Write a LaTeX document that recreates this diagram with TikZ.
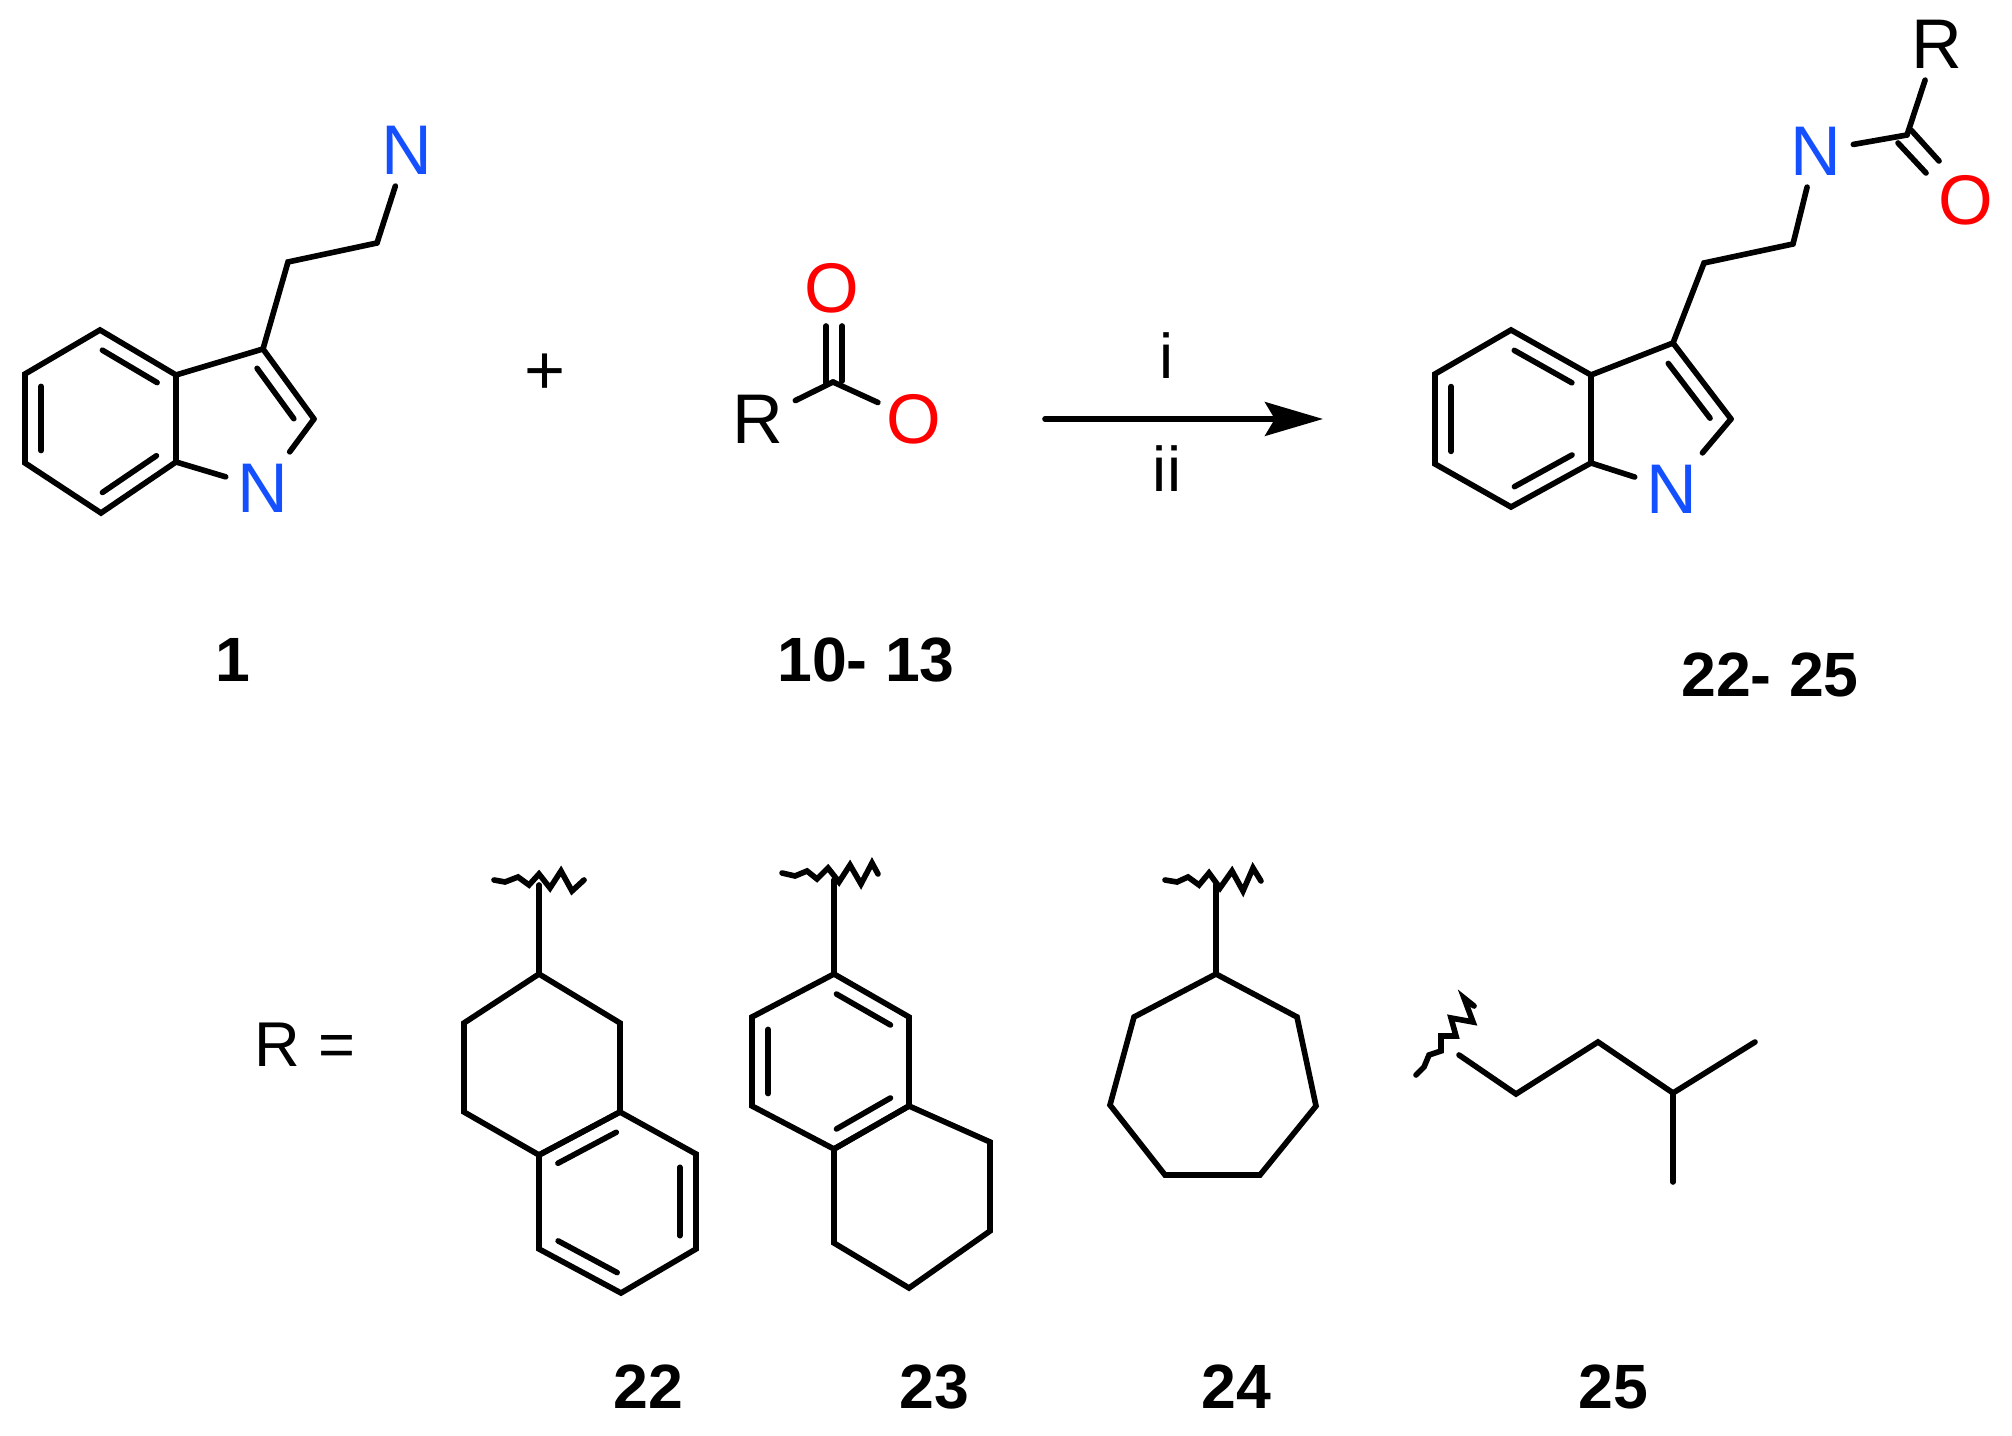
\documentclass[tikz,border=0pt]{standalone}
\usepackage{fontspec}
\setmainfont{Liberation Sans}
\usetikzlibrary{arrows.meta,calc}
\definecolor{nblue}{RGB}{20,80,255}
\definecolor{ored}{RGB}{255,0,0}
\newcommand{\innerbond}[2]{\draw[bond] ($(#1)!.14!(#2)!4.6pt!-90:(#2)$) -- ($(#2)!.14!(#1)!4.6pt!90:(#1)$);}

\begin{document}
\begin{tikzpicture}[yscale=-1,
    bond/.style={line width=1.6pt,line cap=round,line join=miter},
    atom/.style={font=\fontsize{20}{24}\selectfont,inner sep=3.4pt,outer sep=0pt},
    nitro/.style={atom,text=nblue},
    oxy/.style={atom,text=ored,inner sep=2.5pt},
    caption/.style={font=\fontsize{17.8}{22}\bfseries\selectfont,inner sep=0pt},
    plain/.style={font=\fontsize{18}{22}\selectfont,inner sep=0pt}]
\useasboundingbox (0,0) rectangle (20.12,14.36);

\begin{scope}
    \coordinate (T1) at (1.00,3.30);
    \coordinate (T2) at (0.25,3.74);
    \coordinate (T3) at (0.25,4.63);
    \coordinate (T4) at (1.01,5.13);
    \coordinate (T5) at (1.76,4.62);
    \coordinate (T6) at (1.76,3.75);
    \coordinate (T7) at (2.63,3.49);
    \coordinate (T8) at (3.14,4.19);
    \coordinate (T9) at (2.88,2.62);
    \coordinate (T10) at (3.77,2.43);
    \node[nitro] (TN) at (2.63,4.88) {N};
    \node[nitro] (TA) at (4.07,1.50) {N};
\end{scope}
\draw[bond] (T1) -- (T2) -- (T3) -- (T4) -- (T5) -- (T6) -- cycle;
\draw[bond] (T5) -- (T6) -- (T7) -- (T8);
\draw[bond] (T7) -- (T9) -- (T10);
\draw[bond] (T10) -- (TA);
\draw[bond] (T8) -- (TN);
\draw[bond] (T5) -- (TN);
\innerbond{T6}{T1}
\innerbond{T2}{T3}
\innerbond{T4}{T5}
\innerbond{T8}{T7}

\node[atom] (plus) at (5.45,3.74) {+};

\begin{scope}
    \coordinate (C1) at (8.33,3.82);
    \coordinate (C2) at (8.26,3.83);
    \coordinate (C3) at (8.42,3.81);
    \coordinate (C4) at (8.26,3.26);
    \coordinate (C5) at (8.42,3.26);
    \node[atom] (CR) at (7.58,4.19) {R};
    \node[oxy] (CO) at (9.14,4.19) {O};
    \node[oxy] (CD) at (8.32,2.88) {O};
\end{scope}
\draw[bond] (CR) -- (C1);
\draw[bond] (C1) -- (CO);
\draw[bond] (C2) -- (C4);
\draw[bond] (C3) -- (C5);

\coordinate (arrowa) at (10.45,4.19);
\coordinate (arrowb) at (13.23,4.19);
\draw[bond,-{Stealth[length=16.5pt,width=9.6pt,inset=2.8pt]}] (arrowa) -- (arrowb);
\node[plain] (stepi) at (11.67,3.56) {i};
\node[plain] (stepii) at (11.67,4.69) {ii};

\begin{scope}
    \coordinate (P1) at (15.11,3.30);
    \coordinate (P2) at (14.35,3.74);
    \coordinate (P3) at (14.35,4.64);
    \coordinate (P4) at (15.11,5.07);
    \coordinate (P5) at (15.91,4.63);
    \coordinate (P6) at (15.91,3.75);
    \coordinate (P7) at (16.73,3.43);
    \coordinate (P8) at (17.31,4.19);
    \coordinate (P9) at (17.04,2.63);
    \coordinate (P10) at (17.93,2.44);
    \coordinate (P11) at (19.07,1.35);
    \coordinate (P12) at (18.98,1.43);
    \coordinate (P13) at (19.26,1.73);
    \coordinate (P14) at (19.11,1.30);
    \coordinate (P15) at (19.39,1.61);
    \node[nitro] (PN) at (16.72,4.89) {N};
    \node[nitro] (PA) at (18.16,1.51) {N};
    \node[atom] (PR) at (19.37,0.44) {R};
    \node[oxy] (PO) at (19.66,2.00) {O};
\end{scope}
\draw[bond] (P1) -- (P2) -- (P3) -- (P4) -- (P5) -- (P6) -- cycle;
\draw[bond] (P5) -- (P6) -- (P7) -- (P8);
\draw[bond] (P7) -- (P9) -- (P10);
\draw[bond] (P10) -- (PA);
\draw[bond] (P8) -- (PN);
\draw[bond] (P5) -- (PN);
\draw[bond] (PA) -- (P11);
\draw[bond] (P11) -- (PR);
\draw[bond] (P12) -- (P13);
\draw[bond] (P14) -- (P15);
\innerbond{P6}{P1}
\innerbond{P2}{P3}
\innerbond{P4}{P5}
\innerbond{P8}{P7}

\node[caption] (lab1) at (2.33,6.60) {1};
\node[caption] (lab2) at (8.66,6.60) {10- 13};
\node[caption] (lab3) at (17.70,6.75) {22- 25};

\node[plain] (rlabel) at (3.05,10.45) {R =};

\begin{scope}
    \coordinate (A0) at (5.39,8.85);
    \coordinate (A1) at (5.39,9.74);
    \coordinate (A2) at (4.64,10.23);
    \coordinate (A3) at (4.64,11.12);
    \coordinate (A4) at (5.39,11.55);
    \coordinate (A5) at (6.20,11.12);
    \coordinate (A6) at (6.20,10.23);
    \coordinate (A7) at (6.96,11.54);
    \coordinate (A8) at (6.96,12.49);
    \coordinate (A9) at (6.21,12.93);
    \coordinate (A10) at (5.39,12.49);
\end{scope}
\draw[bond] (A1) -- (A2) -- (A3) -- (A4) -- (A5) -- (A6) -- cycle;
\draw[bond] (A4) -- (A5) -- (A7) -- (A8) -- (A9) -- (A10) -- cycle;
\draw[bond] (A0) -- (A1);
\draw[bond] (4.94,8.80) -- (5.05,8.82) -- (5.18,8.77) -- (5.29,8.85) -- (5.39,8.74) -- (5.50,8.88) -- (5.61,8.71) -- (5.72,8.91) -- (5.84,8.80);
\innerbond{A5}{A4}
\innerbond{A8}{A7}
\innerbond{A10}{A9}
\node[caption] (lab4) at (6.48,13.87) {22};

\begin{scope}
    \coordinate (B0) at (8.34,8.80);
    \coordinate (B1) at (8.34,9.74);
    \coordinate (B2) at (7.52,10.17);
    \coordinate (B3) at (7.52,11.06);
    \coordinate (B4) at (8.34,11.49);
    \coordinate (B5) at (9.09,11.06);
    \coordinate (B6) at (9.09,10.17);
    \coordinate (B7) at (9.90,11.42);
    \coordinate (B8) at (9.90,12.31);
    \coordinate (B9) at (9.09,12.88);
    \coordinate (B10) at (8.34,12.43);
\end{scope}
\draw[bond] (B1) -- (B2) -- (B3) -- (B4) -- (B5) -- (B6) -- cycle;
\draw[bond] (B4) -- (B5) -- (B7) -- (B8) -- (B9) -- (B10) -- cycle;
\draw[bond] (B0) -- (B1);
\draw[bond] (7.82,8.73) -- (7.95,8.76) -- (8.07,8.71) -- (8.17,8.79) -- (8.28,8.68) -- (8.39,8.82) -- (8.50,8.65) -- (8.61,8.84) -- (8.72,8.63) -- (8.78,8.74);
\innerbond{B6}{B1}
\innerbond{B2}{B3}
\innerbond{B4}{B5}
\node[caption] (lab5) at (9.34,13.87) {23};

\begin{scope}
    \coordinate (D0) at (12.16,8.85);
    \coordinate (D1) at (12.16,9.74);
    \coordinate (D2) at (11.34,10.17);
    \coordinate (D3) at (11.10,11.05);
    \coordinate (D4) at (11.65,11.75);
    \coordinate (D5) at (12.60,11.75);
    \coordinate (D6) at (13.16,11.06);
    \coordinate (D7) at (12.97,10.17);
\end{scope}
\draw[bond] (D1) -- (D2) -- (D3) -- (D4) -- (D5) -- (D6) -- (D7) -- cycle;
\draw[bond] (D0) -- (D1);
\draw[bond] (11.65,8.80) -- (11.77,8.82) -- (11.88,8.77) -- (11.99,8.85) -- (12.09,8.73) -- (12.20,8.88) -- (12.32,8.71) -- (12.43,8.91) -- (12.53,8.68) -- (12.61,8.81);
\node[caption] (lab6) at (12.36,13.87) {24};

\begin{scope}
    \coordinate (E1) at (14.59,10.55);
    \coordinate (E2) at (15.16,10.94);
    \coordinate (E3) at (15.98,10.42);
    \coordinate (E4) at (16.73,10.93);
    \coordinate (E5) at (17.55,10.42);
    \coordinate (E6) at (16.73,11.82);
\end{scope}
\draw[bond] (E1) -- (E2) -- (E3) -- (E4) -- (E5);
\draw[bond] (E4) -- (E6);
\draw[bond] (14.16,10.75) -- (14.24,10.67) -- (14.29,10.55) -- (14.41,10.51) -- (14.41,10.36) -- (14.56,10.36) -- (14.51,10.18) -- (14.73,10.22) -- (14.64,9.98) -- (14.74,10.06);
\node[caption] (lab7) at (16.13,13.87) {25};
\end{tikzpicture}
\end{document}
